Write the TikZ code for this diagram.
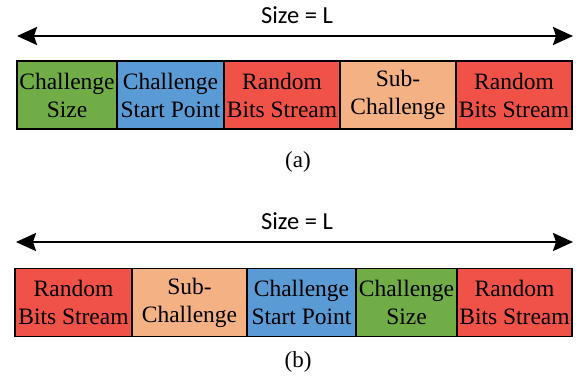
\documentclass[tikz,border=0pt]{standalone}
\usepackage{fontspec}
\setmainfont{Liberation Serif}
\newfontfamily\sizefont{Carlito}
\usetikzlibrary{arrows.meta,positioning}
\definecolor{chgreen}{RGB}{112,173,71}
\definecolor{chblue}{RGB}{91,155,213}
\definecolor{bitsred}{RGB}{240,82,72}
\definecolor{subpeach}{RGB}{244,177,131}

\begin{document}
\begin{tikzpicture}[x=1pt, y=-1pt, node distance=0pt,
    field/.style={draw, line width=1.5pt, minimum height=68pt, inner sep=0pt,
      outer sep=0pt, align=center, font=\fontsize{23.5}{28}\selectfont},
    lenarrow/.style={{Stealth[length=20pt, width=18pt, inset=3pt]}-{Stealth[length=20pt, width=18pt, inset=3pt]}, line width=2.5pt},
    sizelabel/.style={font=\sizefont\fontsize{24.5}{28}\selectfont, inner sep=0pt},
    caption/.style={font=\fontsize{23}{26}\selectfont, inner sep=0pt}]
  \useasboundingbox (0,0) rectangle (578,381);
        % (a)
        \node[field, fill=chgreen, minimum width=100pt, anchor=west]
          (a1) at (17,95) {Challenge\\Size};
        \node[field, fill=chblue, minimum width=107pt, right=of a1]
          (a2) {Challenge\\Start Point};
        \node[field, fill=bitsred, minimum width=116pt, right=of a2]
          (a3) {Random\\Bits Stream};
        \node[field, fill=subpeach, minimum width=116pt, right=of a3]
          (a4) {Sub-\\Challenge};
        \node[field, fill=bitsred, minimum width=116pt, right=of a4]
          (a5) {Random\\Bits Stream};
        \coordinate (al) at (17,36);
        \coordinate (ar) at (573,36);
        \draw[lenarrow] (al) -- (ar);
        \node[sizelabel] (asize) at (297,15) {Size = L};
        \node[caption] (acap) at (298,162) {(a)};
        % (b)
        \node[field, fill=bitsred, minimum width=117pt, anchor=west]
          (b1) at (15,302.5) {Random\\Bits Stream};
        \node[field, fill=subpeach, minimum width=115pt, right=of b1]
          (b2) {Sub-\\Challenge};
        \node[field, fill=chblue, minimum width=109pt, right=of b2]
          (b3) {Challenge\\Start Point};
        \node[field, fill=chgreen, minimum width=101pt, right=of b3]
          (b4) {Challenge\\Size};
        \node[field, fill=bitsred, minimum width=115pt, right=of b4]
          (b5) {Random\\Bits Stream};
        \coordinate (bl) at (16,242);
        \coordinate (br) at (573,242);
        \draw[lenarrow] (bl) -- (br);
        \node[sizelabel] (bsize) at (297,221) {Size = L};
        \node[caption] (bcap) at (298,362) {(b)};
      \end{tikzpicture}
\end{document}
